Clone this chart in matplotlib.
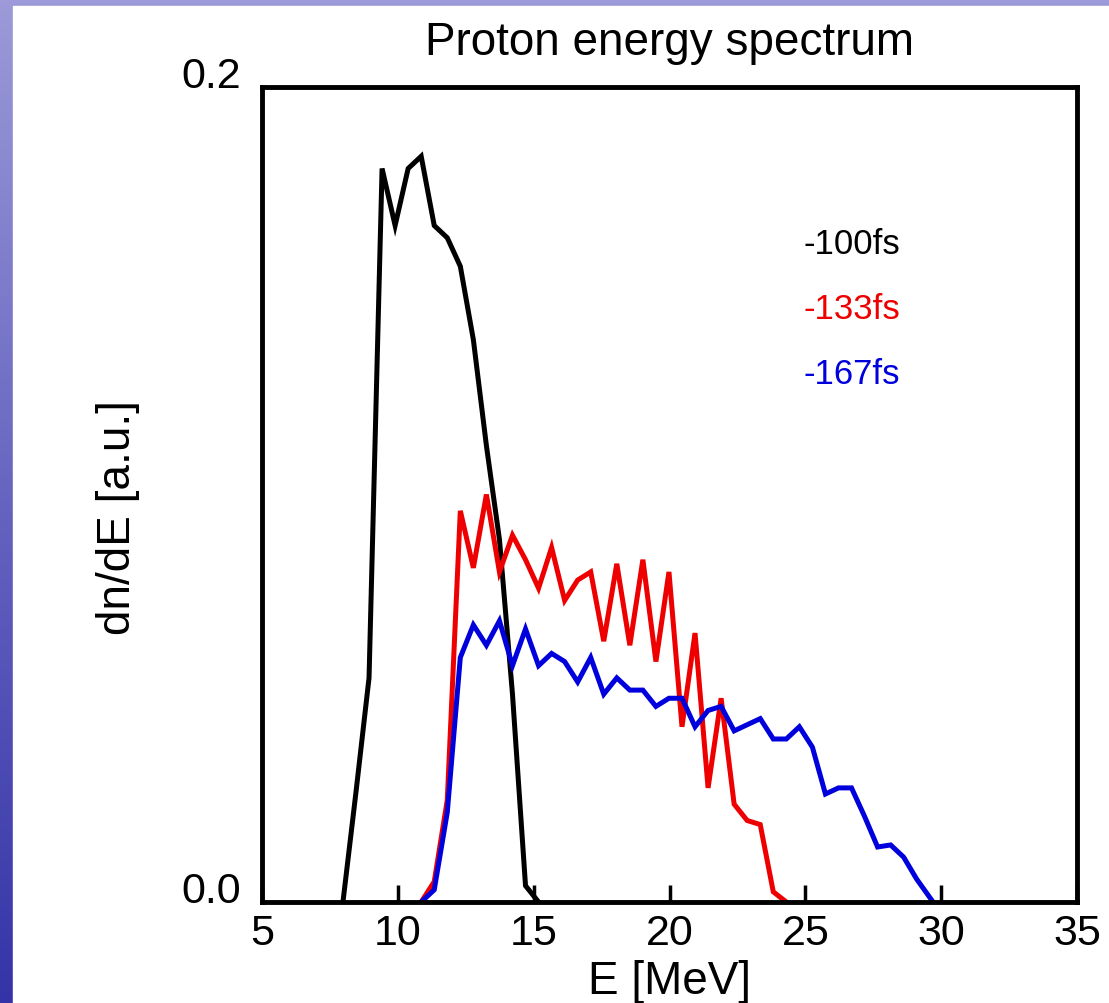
import numpy as np
import matplotlib
matplotlib.use("Agg")
import matplotlib.pyplot as plt
from matplotlib.patches import Rectangle

plt.rcParams['font.family'] = ['Liberation Sans', 'DejaVu Sans']

# spectra: energy [MeV] and dn/dE [a.u.]
e_100 = [7.98, 8.46, 8.94, 9.42, 9.90, 10.38, 10.86, 11.34, 11.82, 12.30,
         12.78, 13.26, 13.74, 14.22, 14.70, 15.18]
n_100 = [0.0, 0.027, 0.055, 0.180, 0.166, 0.180, 0.183, 0.166, 0.163, 0.156,
         0.138, 0.112, 0.089, 0.051, 0.004, 0.0]

e_133 = [10.86, 11.34, 11.82, 12.30, 12.78, 13.26, 13.74, 14.22, 14.70, 15.18,
         15.66, 16.14, 16.62, 17.10, 17.58, 18.06, 18.54, 19.02, 19.50, 19.98,
         20.46, 20.94, 21.42, 21.90, 22.38, 22.86, 23.34, 23.82, 24.30]
n_133 = [0.0, 0.005, 0.025, 0.096, 0.082, 0.100, 0.081, 0.090, 0.084, 0.077,
         0.087, 0.074, 0.079, 0.081, 0.064, 0.083, 0.063, 0.084, 0.059, 0.081,
         0.043, 0.066, 0.028, 0.050, 0.024, 0.020, 0.019, 0.0025, 0.0]

e_167 = [10.86, 11.34, 11.82, 12.30, 12.78, 13.26, 13.74, 14.22, 14.70, 15.18,
         15.66, 16.14, 16.62, 17.10, 17.58, 18.06, 18.54, 19.02, 19.50, 19.98,
         20.46, 20.94, 21.42, 21.90, 22.38, 22.86, 23.34, 23.82, 24.30, 24.78,
         25.26, 25.74, 26.22, 26.70, 27.18, 27.66, 28.14, 28.62, 29.10, 29.70]
n_167 = [0.0, 0.003, 0.022, 0.060, 0.068, 0.063, 0.069, 0.058, 0.067, 0.058,
         0.061, 0.059, 0.054, 0.060, 0.051, 0.055, 0.052, 0.052, 0.048, 0.050,
         0.050, 0.043, 0.047, 0.048, 0.042, 0.0435, 0.045, 0.040, 0.040, 0.043,
         0.038, 0.0265, 0.028, 0.028, 0.021, 0.0135, 0.014, 0.011, 0.0056, 0.0]

labels = ['-100fs', '-133fs', '-167fs']
colors = ['black', '#ee0000', '#0000dd']

fig = plt.figure(figsize=(11.09, 10.04), dpi=100)

# slide background: blue gradient strip on the left and top edges
bg = fig.add_axes([0, 0, 1, 1], zorder=-10)
grad = np.linspace(0, 1, 256).reshape(-1, 1)
cmap = matplotlib.colors.LinearSegmentedColormap.from_list('slide', ['#9c9ad8', '#6664c0', '#3434a8'])
bg.imshow(grad, aspect='auto', cmap=cmap, extent=[0, 1, 0, 1], origin='upper')
bg.add_patch(Rectangle((13 / 1109, 0), 1, 1 - 7 / 1004, color='white', transform=bg.transAxes))
bg.axis('off')

ax = fig.add_axes([262 / 1109, 1 - 903 / 1004, 815 / 1109, 815 / 1004])
for e, n, c in zip([e_100, e_133, e_167], [n_100, n_133, n_167], colors):
    ax.plot(e, n, color=c, lw=3.6, solid_joinstyle='miter')

ax.set_xlim(5, 35)
ax.set_ylim(0, 0.2)
ax.set_xticks([5, 10, 15, 20, 25, 30, 35])
ax.set_yticks([0, 0.2])
ax.set_yticklabels(['0.0', '0.2'])
for lab in ax.get_yticklabels():
    lab.set_verticalalignment('baseline')
ax.tick_params(axis='x', direction='in', length=12, width=2.5, labelsize=31, pad=8)
ax.tick_params(axis='y', length=0, labelsize=31, pad=15)
for sp in ax.spines.values():
    sp.set_linewidth(3.5)

ax.set_title('Proton energy spectrum', fontsize=33, pad=24)
ax.set_xlabel('E [MeV]', fontsize=33, labelpad=4)
ax.set_ylabel('dn/dE [a.u.]', fontsize=33)
ax.yaxis.set_label_coords(-0.15, 0.473)

for i, (lab, c) in enumerate(zip(labels, colors)):
    ax.text(0.664, 0.808 - 0.08 * i, lab, color=c, fontsize=25,
            transform=ax.transAxes, ha='left', va='center')

fig.savefig('out.png', dpi=100)
